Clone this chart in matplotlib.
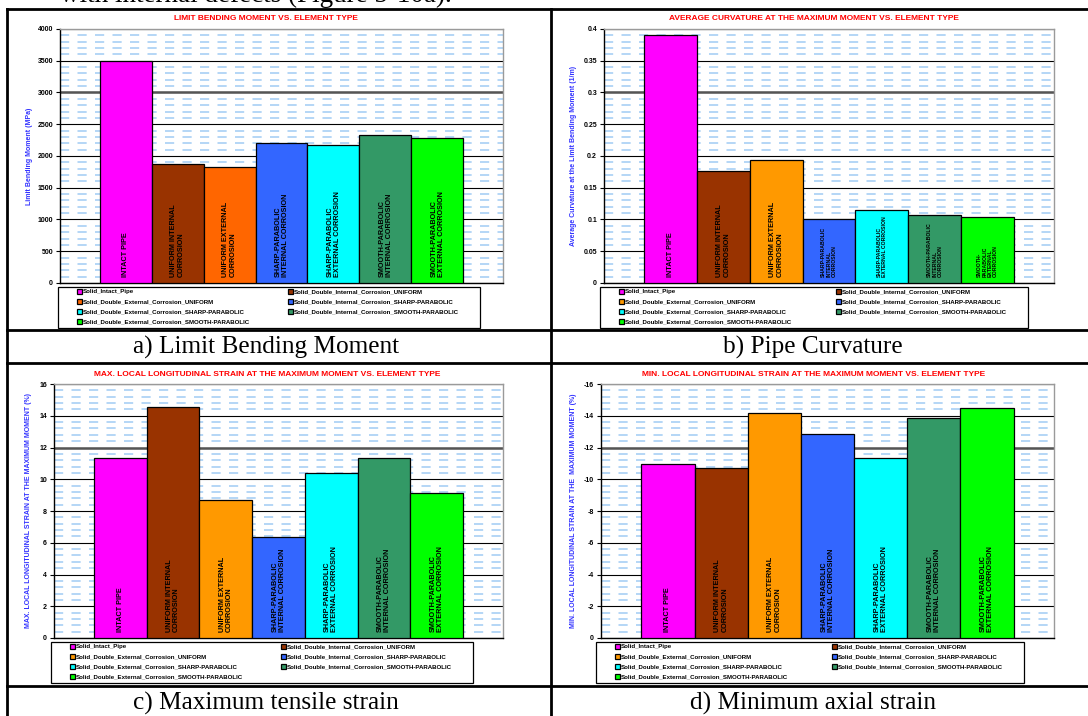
import numpy as np
import matplotlib; matplotlib.use('Agg')
import matplotlib.pyplot as plt
from matplotlib.lines import Line2D
from matplotlib.patches import Rectangle

plt.rcParams['font.family'] = ['Liberation Sans', 'DejaVu Sans']

W, H = 1088, 716

# --- data -------------------------------------------------------------
series = ['Solid_Intact_Pipe',
          'Solid_Double_Internal_Corrosion_UNIFORM',
          'Solid_Double_External_Corrosion_UNIFORM',
          'Solid_Double_Internal_Corrosion_SHARP-PARABOLIC',
          'Solid_Double_External_Corrosion_SHARP-PARABOLIC',
          'Solid_Double_Internal_Corrosion_SMOOTH-PARABOLIC',
          'Solid_Double_External_Corrosion_SMOOTH-PARABOLIC']

bar_text = ['INTACT PIPE',
            'UNIFORM INTERNAL\nCORROSION',
            'UNIFORM EXTERNAL\nCORROSION',
            'SHARP-PARABOLIC\nINTERNAL CORROSION',
            'SHARP-PARABOLIC\nEXTERNAL CORROSION',
            'SMOOTH-PARABOLIC\nINTERNAL CORROSION',
            'SMOOTH-PARABOLIC\nEXTERNAL CORROSION']
bar_text_b = ['INTACT PIPE',
              'UNIFORM INTERNAL\nCORROSION',
              'UNIFORM EXTERNAL\nCORROSION',
              'SHARP-PARABOLIC\nINTERNAL\nCORROSION',
              'SHARP-PARABOLIC\nEXTERNAL CORROSION',
              'SMOOTH-PARABOLIC\nINTERNAL\nCORROSION',
              'SMOOTH-\nPARABOLIC\nEXTERNAL\nCORROSION']

moment = [3500, 1875, 1822, 2210, 2168, 2325, 2283]
curvature = [0.390, 0.176, 0.193, 0.100, 0.1155, 0.1066, 0.1034]
max_strain = [11.35, 14.57, 8.72, 6.34, 10.42, 11.37, 9.12]
min_strain = [-10.93, -10.74, -14.17, -12.88, -11.33, -13.85, -14.46]

colors_a = ['#FF00FF', '#993300', '#FF6600', '#3366FF', '#00FFFF', '#339966', '#00FF00']
colors = ['#FF00FF', '#993300', '#FF9900', '#3366FF', '#00FFFF', '#339966', '#00FF00']

fig = plt.figure(figsize=(W/100, H/100), dpi=100)


def px_axes(l, t, r, b):
    return fig.add_axes([l/W, 1-b/H, (r-l)/W, (b-t)/H])


def chart(box, vals, cols, texts, title, title_xy, ylabel, ylab_x,
          major, minor, ylim, ticklabels, thick, leg_box, small=None):
    l, t, r, b = box
    ax = px_axes(l, t, r, b)
    x = np.arange(len(vals))
    bars = ax.bar(x, vals, width=1.0, color=cols, edgecolor='black', lw=0.9, zorder=3)
    ax.set_xlim(-0.5-0.76, len(vals)-0.5+0.76)
    ax.set_ylim(*ylim)
    ax.set_xticks([])
    ax.set_yticks(major)
    ax.set_yticklabels(ticklabels, fontsize=5, fontweight='bold')
    ax.set_yticks(minor, minor=True)
    ax.tick_params(axis='y', which='major', length=3, width=0.8, pad=2)
    ax.tick_params(axis='y', which='minor', length=0)
    ax.set_axisbelow(True)
    ax.grid(which='major', axis='y', color='black', lw=0.8)
    ax.grid(which='minor', axis='y', color='#A8CFF5', lw=1.2, ls=(0, (5.5, 5)))
    ax.axhline(thick, color='#555555', lw=1.8, zorder=1)
    for s in ['left', 'bottom']:
        ax.spines[s].set_color('black'); ax.spines[s].set_linewidth(1)
    for s in ['top', 'right']:
        ax.spines[s].set_color('#9A9A9A'); ax.spines[s].set_linewidth(1)
    ax.set_ylabel(ylabel, fontsize=5, fontweight='bold', color='#3333FF')
    ax.yaxis.set_label_coords((ylab_x-l)/(r-l), 0.5)
    fig.text(title_xy[0]/W, 1-title_xy[1]/H, title, color='#FF0000', fontsize=6,
             fontweight='bold', ha='center', va='center')
    for i, txt in enumerate(texts):
        fs = 5.2
        if small is not None and i in small:
            fs = 3.7
        ax.annotate(txt, (x[i], 0), xytext=(0, 4.5), textcoords='offset points',
                    rotation=90, ha='center', va='bottom', multialignment='left',
                    fontsize=fs, fontweight='bold', linespacing=1.05, zorder=4)

    # legend: two columns, row-wise series order, inside a fixed frame
    order = [0, 2, 4, 6, 1, 3, 5]
    fx0, fy0, fx1, fy1 = leg_box
    fig.add_artist(Rectangle((fx0/W, 1-fy1/H), (fx1-fx0)/W, (fy1-fy0)/H,
                             transform=fig.transFigure, fill=False,
                             edgecolor='black', lw=0.9))
    cx0, cx1 = fx0 + 19, fx1 - 21
    ax.legend([bars[k] for k in order], [series[k] for k in order],
              ncol=2, mode='expand', loc='upper left',
              bbox_to_anchor=(cx0/W, 1-(fy0+2)/H, (cx1-cx0)/W, 0),
              bbox_transform=fig.transFigure, borderaxespad=0, borderpad=0,
              prop={'size': 4.4, 'weight': 'bold'}, handlelength=0.8,
              handleheight=0.8, handletextpad=0.15, labelspacing=0.75,
              frameon=False)
    return ax


# a) limit bending moment
chart((60, 29, 503, 283), moment, colors_a, bar_text,
      'LIMIT BENDING MOMENT VS. ELEMENT TYPE', (266, 19),
      'Limit Bending Moment (MPa)', 33,
      np.arange(0, 4001, 500), np.arange(0, 4001, 100), (0, 4000),
      [str(v) for v in range(0, 4001, 500)], 3000, (58, 287, 480, 328))

# b) curvature
chart((604, 29, 1054, 283), curvature, colors, bar_text_b,
      'AVERAGE CURVATURE AT THE MAXIMUM MOMENT VS. ELEMENT TYPE', (814, 19),
      'Average Curvature at the Limit Bending Moment (1/m)', 577,
      np.linspace(0, 0.4, 9), np.linspace(0, 0.4, 41), (0, 0.4),
      ['0', '0.05', '0.1', '0.15', '0.2', '0.25', '0.3', '0.35', '0.4'], 0.3,
      (600, 287, 1028, 328), small=[3, 4, 5, 6])

# c) max strain
chart((54, 384, 503, 638), max_strain, colors, bar_text,
      'MAX. LOCAL LONGITUDINAL STRAIN AT THE MAXIMUM MOMENT VS. ELEMENT TYPE', (267, 374),
      'MAX. LOCAL LONGITUDINAL STRAIN AT THE MAXIMUM MOMENT (%)', 32,
      np.arange(0, 17, 2), np.linspace(0, 16, 41), (0, 16),
      [str(v) for v in range(0, 17, 2)], 12, (51, 642, 473, 683))

# d) min strain
chart((601, 384, 1054, 638), min_strain, colors, bar_text,
      'MIN. LOCAL LONGITUDINAL STRAIN AT THE MAXIMUM MOMENT VS. ELEMENT TYPE', (814, 374),
      'MIN. LOCAL LONGITUDINAL STRAIN AT THE  MAXIMUM MOMENT (%)', 577,
      np.arange(0, -17, -2), np.linspace(0, -16, 41), (0, -16),
      [str(v) for v in range(0, -17, -2)], -12, (596, 642, 1024, 683))

# table frame and captions
def hline(y, x0=7, x1=W):
    fig.add_artist(Line2D([x0/W, x1/W], [1-y/H, 1-y/H], color='black', lw=2))

def vline(x, y0=9, y1=H):
    fig.add_artist(Line2D([x/W, x/W], [1-y0/H, 1-y1/H], color='black', lw=2))

for y in [9, 330, 363, 686]:
    hline(y)
for x in [7, 551]:
    vline(x)

cap = dict(family='Liberation Serif', fontsize=18.2, ha='center', va='center')
fig.text(266/W, 1-347/H, 'a) Limit Bending Moment', **cap)
fig.text(813/W, 1-347/H, 'b) Pipe Curvature', **cap)
fig.text(266/W, 1-703/H, 'c) Maximum tensile strain', **cap)
fig.text(813/W, 1-703/H, 'd) Minimum axial strain', **cap)
fig.text(60/W, 1-1.5/H, 'with internal defects (Figure 5-10a).', family='Liberation Serif',
         fontsize=19.5, ha='left', va='baseline')

fig.savefig('out.png', dpi=100)
